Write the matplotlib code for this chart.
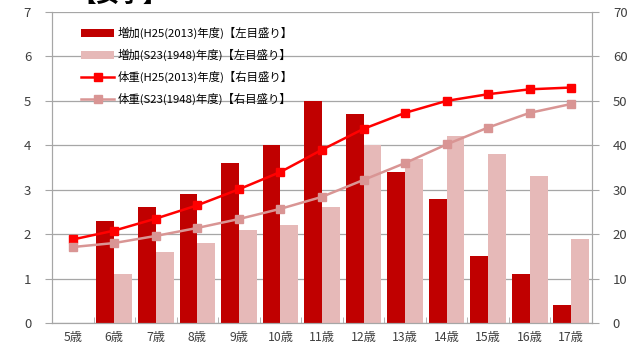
import matplotlib.pyplot as plt
import numpy as np

plt.rcParams['font.family'] = ['Noto Sans CJK JP', 'DejaVu Sans']

ages = ['5歳', '6歳', '7歳', '8歳', '9歳', '10歳', '11歳', '12歳',
        '13歳', '14歳', '15歳', '16歳', '17歳']

# yearly weight gain (kg), left axis
gain_2013 = [0, 2.3, 2.6, 2.9, 3.6, 4.0, 5.0, 4.7, 3.4, 2.8, 1.5, 1.1, 0.4]
gain_1948 = [0, 1.1, 1.6, 1.8, 2.1, 2.2, 2.6, 4.0, 3.7, 4.2, 3.8, 3.3, 1.9]

# body weight (kg), right axis
weight_2013 = [18.8, 20.8, 23.5, 26.5, 30.1, 34.0, 39.0, 43.7, 47.3, 50.0, 51.5, 52.6, 53.0]
weight_1948 = [17.1, 18.0, 19.6, 21.4, 23.4, 25.7, 28.4, 32.2, 36.0, 40.2, 44.0, 47.3, 49.3]

labels = ['増加(H25(2013)年度)【左目盛り】', '増加(S23(1948)年度)【左目盛り】',
          '体重(H25(2013)年度)【右目盛り】', '体重(S23(1948)年度)【右目盛り】']

dark_red = '#c00000'
light_red = '#e6b9b8'
line_red = '#ff0000'
line_pink = '#d99594'
grid_col = '#a6a6a6'

fig = plt.figure(figsize=(6.44, 3.47), dpi=100)
ax = fig.add_axes([52 / 644, 24 / 347, 540 / 644, 311 / 347])
ax2 = ax.twinx()

x = np.arange(len(ages))
w = 0.43
b1 = ax.bar(x - w / 2, gain_2013, width=w, color=dark_red, zorder=2)
b2 = ax.bar(x + w / 2, gain_1948, width=w, color=light_red, zorder=2)

l1, = ax2.plot(x, weight_2013, color=line_red, lw=1.8, marker='s', ms=5.5, zorder=3)
l2, = ax2.plot(x, weight_1948, color=line_pink, lw=1.8, marker='s', ms=5.5, zorder=3)

ax.set_xlim(-0.5, len(ages) - 0.5)
ax.set_ylim(0, 7)
ax2.set_ylim(0, 70)
ax.set_yticks(range(0, 8))
ax2.set_yticks(range(0, 71, 10))
ax.yaxis.grid(True, color=grid_col, lw=0.9, zorder=0)
ax.set_axisbelow(True)

ax.set_xticks(x)
ax.set_xticklabels(ages)
ax.set_xticks(np.arange(-0.5, len(ages)), minor=True)
ax.tick_params(axis='x', which='major', length=0, labelsize=8.8, pad=6, colors='#404040')
ax.tick_params(axis='x', which='minor', length=4, color=grid_col, direction='in')
ax.tick_params(axis='y', length=5, color=grid_col, labelsize=9.5, pad=10, labelcolor='#404040')
ax2.tick_params(axis='y', length=5, color=grid_col, labelsize=9.5, pad=10, labelcolor='#404040')

for a in (ax, ax2):
    a.spines['top'].set_visible(False)
    for s in ('left', 'right', 'bottom'):
        a.spines[s].set_color(grid_col)

ax.legend([b1, b2, l1, l2], labels, loc='upper left', bbox_to_anchor=(0.035, 0.985),
          frameon=False, fontsize=8.2, handlelength=2.9, labelspacing=0.85,
          handletextpad=0.3)

fig.text(72 / 644, 1 - 2 / 347, '【女子】', fontsize=17, fontweight='bold',
         va='baseline', ha='left')

plt.savefig('out.png', dpi=100)
